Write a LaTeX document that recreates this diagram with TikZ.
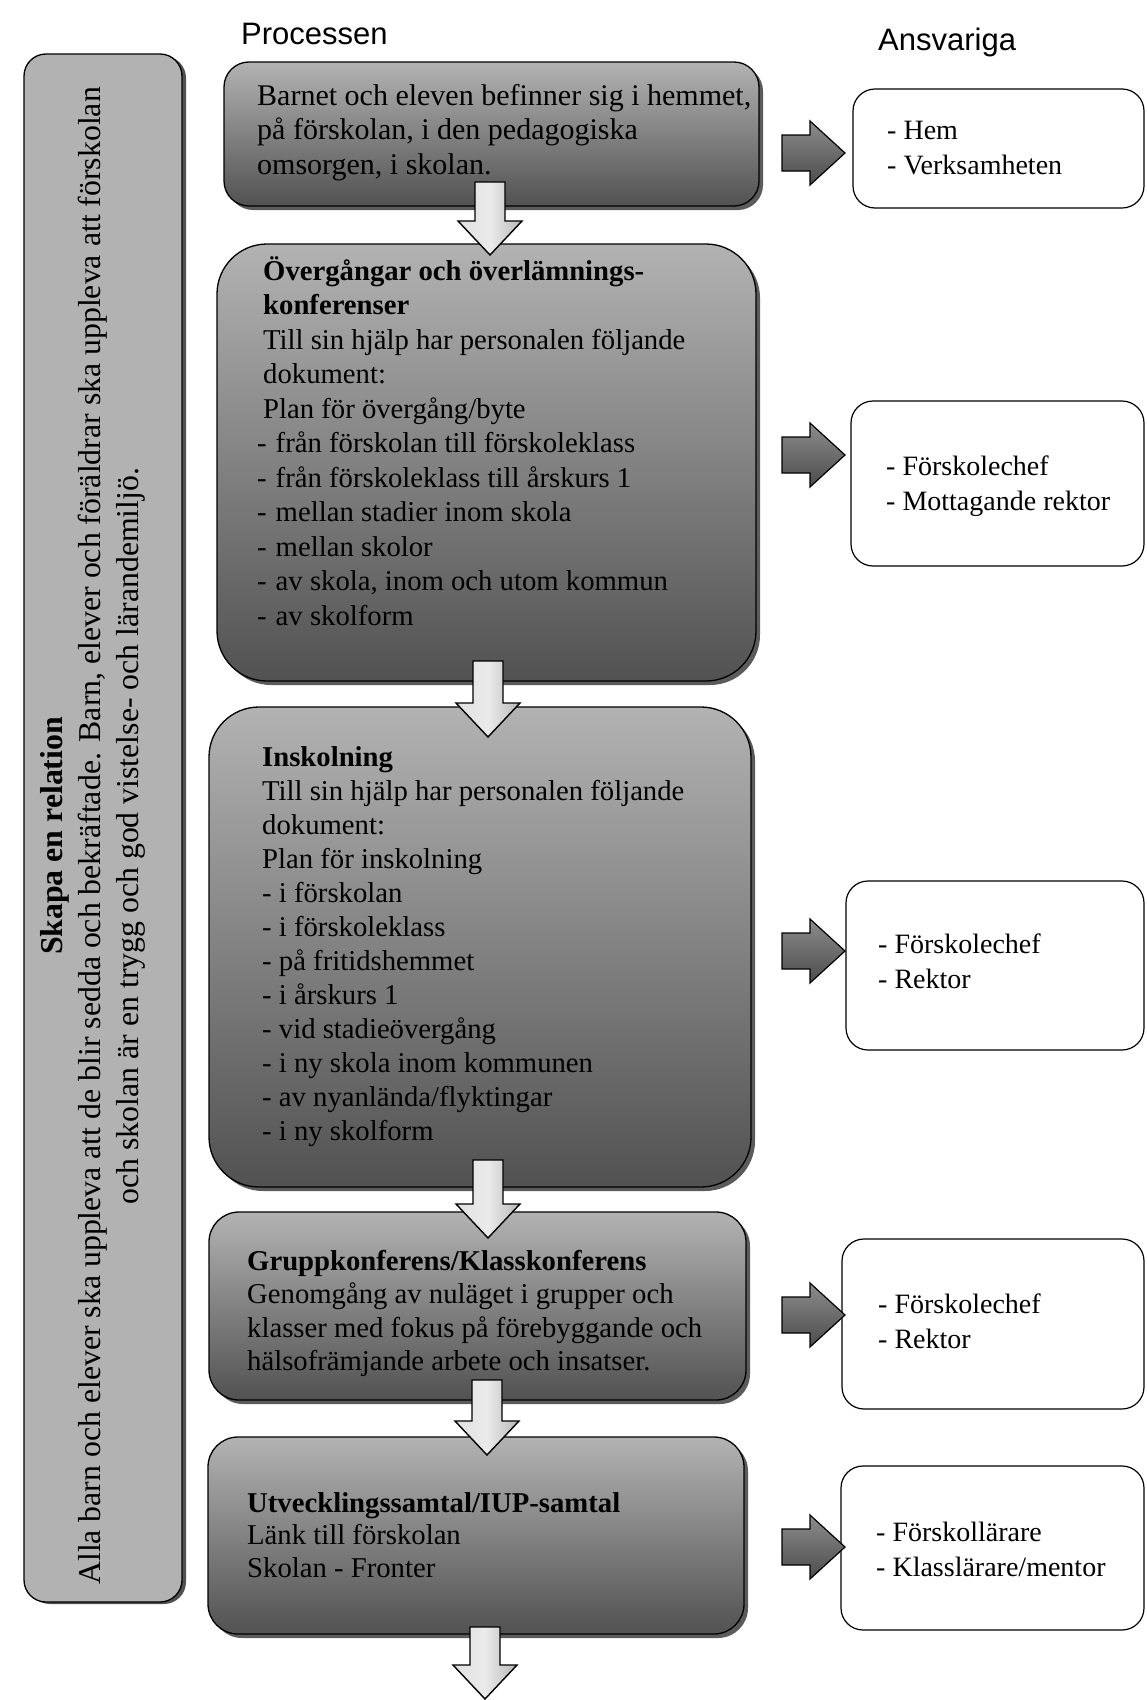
\documentclass[tikz,border=0pt]{standalone}
\usepackage{fontspec}
\setmainfont{Liberation Serif}
\newfontfamily\titlefont{Liberation Sans}
\usetikzlibrary{shadows}
\newcommand\rowtxt[1]{\hbox{#1}}
\newcommand\txtblock[2]{\vtop{\baselineskip=#1\lineskiplimit=-100pt\lineskip=0pt #2}}
\newcommand\bodyfont{\fontsize{28.7}{34}\selectfont}
\newcommand\respfont{\fontsize{28}{34}\selectfont}
\newcommand\dashrow[1]{\hbox{\kern-6pt-\kern9pt #1}}
\newcommand\blkdown[3]{%
  \draw[downarr] (#1-15,#2) -- (#1+15,#2) -- (#1+15,#3-34) -- (#1+32,#3-34) -- (#1,#3) -- (#1-32,#3-34) -- (#1-15,#3-34) -- cycle;}
\newcommand\blkright[1]{%
  \draw[rightarr] (782,#1-18) -- (810,#1-18) -- (810,#1-32) -- (845,#1) -- (810,#1+32) -- (810,#1+18) -- (782,#1+18) -- cycle;}
\tikzset{
  procbox/.style={draw=black, line width=1.3pt, top color=black!30, bottom color=black!68,
    drop shadow={shadow xshift=4pt, shadow yshift=-4pt, opacity=0.8, fill=black!80}},
  barbox/.style={draw=black, line width=1.3pt, fill=black!30, rounded corners=22,
    drop shadow={shadow xshift=4pt, shadow yshift=-2pt, opacity=0.8, fill=black!85}},
  respbox/.style={draw=black, line width=1.2pt, fill=white, rounded corners=22},
  downarr/.style={draw=black, line width=1.4pt, left color=black!12, right color=black!28, middle color=black!8},
  rightarr/.style={draw=black, line width=1.2pt, top color=black!45, bottom color=black!70},
  txt/.style={anchor=base west, inner sep=0pt, font=\bodyfont},
  rtxt/.style={anchor=base west, inner sep=0pt, font=\respfont},
  ttl/.style={anchor=base west, inner sep=0pt, font=\titlefont\fontsize{31}{36}\selectfont}
}
\begin{document}
\begin{tikzpicture}[x=1pt,y=-1pt]
\useasboundingbox (0,0) rectangle (1146,1700);
\fill[white] (0,0) rectangle (1146,1700);

% titles
\node[ttl] (tproc) at (241,44) {Processen};
\node[ttl] (tansv) at (878,50) {Ansvariga};

% left bar
\node[barbox, minimum width=158pt, minimum height=1548pt] (bar) at (103,828) {};
\node[rotate=90, align=center, inner sep=0pt, font=\fontsize{31.8}{38}\selectfont] (bartxt) at (93,836)
  {\textbf{Skapa en relation}\\Alla barn och elever ska uppleva att de blir sedda och bekräftade. Barn, elever och föräldrar ska uppleva att förskolan\\och skolan är en trygg och god vistelse- och lärandemiljö.};

% process boxes
\node[procbox, rounded corners=25, minimum width=535pt, minimum height=144pt] (b1) at (491.5,134) {};
\node[procbox, rounded corners=50, minimum width=539pt, minimum height=437pt] (b2) at (486.5,462.5) {};
\node[procbox, rounded corners=50, minimum width=542pt, minimum height=480pt] (b3) at (480,947) {};
\node[procbox, rounded corners=30, minimum width=537pt, minimum height=188pt] (b4) at (477.5,1306) {};
\node[procbox, rounded corners=30, minimum width=536pt, minimum height=197pt] (b5) at (476,1535.5) {};

\node[txt, font=\fontsize{30}{34}\selectfont] (t1) at (257,105) {\txtblock{34.5pt}{%
  \rowtxt{Barnet och eleven befinner sig i hemmet,}
  \rowtxt{på förskolan, i den pedagogiska}
  \rowtxt{omsorgen, i skolan.}}};
\node[txt] (t2) at (263,280) {\txtblock{34.5pt}{%
  \rowtxt{\textbf{Övergångar och överlämnings-}}
  \rowtxt{\textbf{konferenser}}
  \rowtxt{Till sin hjälp har personalen följande}
  \rowtxt{dokument:}
  \rowtxt{Plan för övergång/byte}
  \dashrow{från förskolan till förskoleklass}
  \dashrow{från förskoleklass till årskurs 1}
  \dashrow{mellan stadier inom skola}
  \dashrow{mellan skolor}
  \dashrow{av skola, inom och utom kommun}
  \dashrow{av skolform}}};
\node[txt] (t3) at (262,766) {\txtblock{34pt}{%
  \rowtxt{\textbf{Inskolning}}
  \rowtxt{Till sin hjälp har personalen följande}
  \rowtxt{dokument:}
  \rowtxt{Plan för inskolning}
  \rowtxt{- i förskolan}
  \rowtxt{- i förskoleklass}
  \rowtxt{- på fritidshemmet}
  \rowtxt{- i årskurs 1}
  \rowtxt{- vid stadieövergång}
  \rowtxt{- i ny skola inom kommunen}
  \rowtxt{- av nyanlända/flyktingar}
  \rowtxt{- i ny skolform}}};
\node[txt] (t4) at (247,1270) {\txtblock{33.5pt}{%
  \rowtxt{\textbf{Gruppkonferens/Klasskonferens}}
  \rowtxt{Genomgång av nuläget i grupper och}
  \rowtxt{klasser med fokus på förebyggande och}
  \rowtxt{hälsofrämjande arbete och insatser.}}};
\node[txt] (t5) at (247,1512) {\txtblock{32.5pt}{%
  \rowtxt{\textbf{Utvecklingssamtal/IUP-samtal}}
  \rowtxt{Länk till förskolan}
  \rowtxt{Skolan - Fronter}}};

% down arrows
\blkdown{490}{182}{255}
\blkdown{488}{661}{737}
\blkdown{488}{1160}{1238}
\blkdown{487}{1380}{1455}
\blkdown{485}{1627}{1699}

% responsible boxes
\node[respbox, minimum width=291pt, minimum height=119pt] (r1) at (998.5,148.5) {};
\node[respbox, minimum width=293pt, minimum height=165pt] (r2) at (997.5,483.5) {};
\node[respbox, minimum width=298pt, minimum height=169pt] (r3) at (995,965.5) {};
\node[respbox, minimum width=302pt, minimum height=170pt] (r4) at (993,1324) {};
\node[respbox, minimum width=303pt, minimum height=164pt] (r5) at (992.5,1548) {};

\node[rtxt] (rt1) at (887,139) {\txtblock{35pt}{\rowtxt{- Hem}\rowtxt{- Verksamheten}}};
\node[rtxt] (rt2) at (886,475) {\txtblock{35pt}{\rowtxt{- Förskolechef}\rowtxt{- Mottagande rektor}}};
\node[rtxt] (rt3) at (878,953) {\txtblock{35pt}{\rowtxt{- Förskolechef}\rowtxt{- Rektor}}};
\node[rtxt] (rt4) at (878,1313) {\txtblock{35pt}{\rowtxt{- Förskolechef}\rowtxt{- Rektor}}};
\node[rtxt] (rt5) at (876,1541) {\txtblock{35pt}{\rowtxt{- Förskollärare}\rowtxt{- Klasslärare/mentor}}};

% right arrows
\blkright{153}
\blkright{455}
\blkright{951}
\blkright{1315}
\blkright{1547}
\end{tikzpicture}
\end{document}
